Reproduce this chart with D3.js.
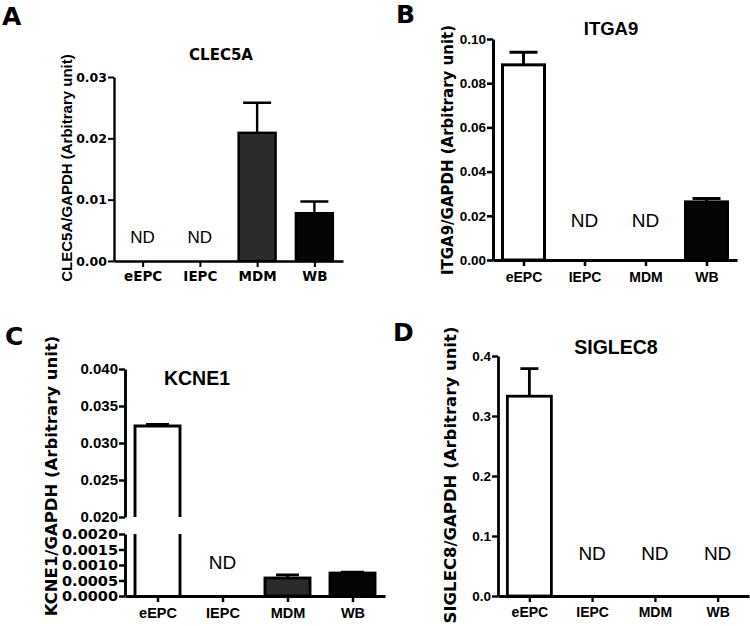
<!DOCTYPE html>
<html>
  <head>
    <meta charset="utf-8">
    <title>Gene expression panels</title>
    <script src="https://d3js.org/d3.v7.min.js"></script>
    <style>
      body { margin: 0; background: #fff; }
      text { font-weight: bold; fill: #000; }
      .nd { font-family: "Liberation Sans", Arial, sans-serif; font-weight: normal; }
    </style>
  </head>
  <body>
    <script>
      // categories shared by all four panels
      const categories = ["eEPC", "IEPC", "MDM", "WB"];
      const categoryFill = ["#ffffff", "#888888", "#2b2b2b", "#050505"];

      // means and SEM (null = ND)
      const clec5aMean = [null, null, 0.0209, 0.0078];
      const clec5aSem = [null, null, 0.0049, 0.0019];
      const clec5aTicks = [0, 0.01, 0.02, 0.03];

      const itga9Mean = [0.0883, null, null, 0.0263];
      const itga9Sem = [0.0057, null, null, 0.0015];
      const itga9Ticks = [0, 0.02, 0.04, 0.06, 0.08, 0.10];

      const kcne1Mean = [0.0323, null, 0.00058, 0.00074];
      const kcne1Sem = [0.0002, null, 0.0001, 0.00003];
      const kcne1TicksLow = [0, 0.0005, 0.001, 0.0015, 0.002];
      const kcne1TicksHigh = [0.020, 0.025, 0.030, 0.035, 0.040];

      const siglec8Mean = [0.333, null, null, null];
      const siglec8Sem = [0.046, null, null, null];
      const siglec8Ticks = [0, 0.1, 0.2, 0.3, 0.4];

      const DV = "'DejaVu Sans', sans-serif";
      const AR = "'Liberation Sans', Arial, sans-serif";

      const svg = d3.select("body").append("svg")
          .attr("width", 750)
          .attr("height", 626);

      // panel layouts
      const panels = [
        {letter: "A", lx: 2, ly: 25, title: "CLEC5A", tx: 221, ty: 60, tfont: [DV, 15],
         ylabel: "CLEC5A/GAPDH (Arbitrary unit)", ylx: 67, yly: 168, ylfont: [AR, 15],
         mean: clec5aMean, sem: clec5aSem, ticks: clec5aTicks, fmt: ".2f",
         axisX: 114, xEnd: 343, y0: 261, yTop: 77, domainMax: 0.03,
         barW: 37, capW: 28, tickFont: [DV, 12.5], catFont: [DV, 13.5], catPad: 4,
         ndSize: 17, ndOff: 18, sw: 2.4},
        {letter: "B", lx: 396, ly: 23, title: "ITGA9", tx: 611, ty: 35, tfont: [AR, 18.5],
         ylabel: "ITGA9/GAPDH (Arbitrary unit)", ylx: 448, yly: 150, ylfont: [DV, 15],
         mean: itga9Mean, sem: itga9Sem, ticks: itga9Ticks, fmt: ".2f",
         axisX: 493, xEnd: 737, y0: 260, yTop: 39, domainMax: 0.10,
         barW: 42, capW: 28, tickFont: [AR, 13.5], catFont: [AR, 14], catPad: 6,
         ndSize: 19, ndOff: 33, sw: 3},
        {letter: "C", lx: 5, ly: 345, title: "KCNE1", tx: 197, ty: 385, tfont: [AR, 19.5],
         ylabel: "KCNE1/GAPDH (Arbitrary unit)", ylx: 51, yly: 476, ylfont: [DV, 16.5],
         mean: kcne1Mean, sem: kcne1Sem, broken: true,
         axisX: 125, xEnd: 385, y0: 596, lowTop: 534, highBottom: 517, yTop: 369,
         barW: 45, capW: 23, tickFont: [AR, 15], lowFont: [DV, 14.5], catFont: [AR, 14.5], catPad: 6,
         ndSize: 19, ndOff: 27, sw: 2.9},
        {letter: "D", lx: 393, ly: 341, title: "SIGLEC8", tx: 616, ty: 354, tfont: [AR, 19.5],
         ylabel: "SIGLEC8/GAPDH (Arbitrary unit)", ylx: 450, yly: 475, ylfont: [DV, 16.5],
         mean: siglec8Mean, sem: siglec8Sem, ticks: siglec8Ticks, fmt: ".1f",
         axisX: 498, xEnd: 749, y0: 596, yTop: 356, domainMax: 0.4,
         barW: 44, capW: 18, tickFont: [AR, 13.5], catFont: [AR, 14], catPad: 5,
         ndSize: 19, ndOff: 36, sw: 2.8}
      ];

      function setFont(sel, f) {
        sel.style("font-family", f[0])
            .style("font-weight", "bold")
            .style("font-size", f[1] + "px");
      }

      function styleAxis(sel, p, f) {
        sel.selectAll("path").attr("stroke-width", p.sw).attr("stroke", "#000");
        sel.selectAll("line").attr("stroke-width", p.sw * 0.85).attr("stroke", "#000");
        setFont(sel.selectAll("text").attr("fill", "#000"), f);
      }

      panels.forEach(p => {
        const g = svg.append("g");

        // category positions
        const x = d3.scalePoint()
            .domain(categories)
            .range([p.axisX, p.xEnd])
            .padding(0.5);

        // value -> pixel, handles the broken axis of panel C
        let yVal;
        if (p.broken) {
          const yLow = d3.scaleLinear().domain([0, 0.002]).range([p.y0, p.lowTop]);
          const yHigh = d3.scaleLinear().domain([0.02, 0.04]).range([p.highBottom, p.yTop]);
          yVal = v => v <= 0.002 ? yLow(v) : yHigh(v);

          const axLow = g.append("g")
              .attr("transform", `translate(${p.axisX},0)`)
              .call(d3.axisLeft(yLow).tickValues(kcne1TicksLow).tickFormat(d3.format(".4f"))
                  .tickSize(6).tickSizeOuter(0).tickPadding(1));
          styleAxis(axLow, p, p.lowFont);
          const axHigh = g.append("g")
              .attr("transform", `translate(${p.axisX},0)`)
              .call(d3.axisLeft(yHigh).tickValues(kcne1TicksHigh).tickFormat(d3.format(".3f"))
                  .tickSize(6).tickSizeOuter(0).tickPadding(1));
          styleAxis(axHigh, p, p.tickFont);
        } else {
          const y = d3.scaleLinear().domain([0, p.domainMax]).range([p.y0, p.yTop]);
          yVal = y;
          const ax = g.append("g")
              .attr("transform", `translate(${p.axisX},0)`)
              .call(d3.axisLeft(y).tickValues(p.ticks).tickFormat(d3.format(p.fmt))
                  .tickSize(6).tickSizeOuter(0).tickPadding(1));
          styleAxis(ax, p, p.tickFont);
        }

        // bars
        categories.forEach((c, i) => {
          const v = p.mean[i];
          const cx = x(c);
          if (v === null) {
            g.append("text")
                .attr("class", "nd")
                .attr("x", cx)
                .attr("y", p.y0 - p.ndOff)
                .attr("text-anchor", "middle")
                .style("font-size", p.ndSize + "px")
                .text("ND");
            return;
          }
          const left = cx - p.barW / 2, right = cx + p.barW / 2;
          const top = yVal(v);
          if (p.broken && v > 0.002) {
            g.append("rect")
                .attr("x", left).attr("y", top)
                .attr("width", p.barW).attr("height", p.y0 - top)
                .attr("fill", categoryFill[i]);
            g.append("path")
                .attr("d", `M${left},${p.y0}V${p.lowTop}M${left},${p.highBottom}V${top}H${right}V${p.highBottom}M${right},${p.lowTop}V${p.y0}`)
                .attr("fill", "none")
                .attr("stroke", "#000")
                .attr("stroke-width", p.sw);
          } else {
            g.append("rect")
                .attr("x", left).attr("y", top)
                .attr("width", p.barW).attr("height", p.y0 - top)
                .attr("fill", categoryFill[i])
                .attr("stroke", "#000")
                .attr("stroke-width", p.sw);
          }
          // error bar (upper only)
          const et = yVal(v + p.sem[i]);
          g.append("path")
              .attr("d", `M${cx},${top}V${et}M${cx - p.capW / 2},${et}H${cx + p.capW / 2}`)
              .attr("fill", "none")
              .attr("stroke", "#000")
              .attr("stroke-width", p.sw);
        });

        // x axis
        const xa = g.append("g")
            .attr("transform", `translate(0,${p.y0})`)
            .call(d3.axisBottom(x).tickSize(6).tickSizeOuter(0).tickPadding(p.catPad));
        styleAxis(xa, p, p.catFont);

        // titles and labels
        setFont(g.append("text")
            .attr("x", p.tx).attr("y", p.ty)
            .attr("text-anchor", "middle")
            .text(p.title), p.tfont);
        setFont(g.append("text")
            .attr("transform", `translate(${p.ylx},${p.yly}) rotate(-90)`)
            .attr("text-anchor", "middle")
            .attr("dy", "0.35em")
            .text(p.ylabel), p.ylfont);
        setFont(g.append("text")
            .attr("x", p.lx).attr("y", p.ly)
            .text(p.letter), [DV, 25]);
      });
    </script>
  </body>
</html>
